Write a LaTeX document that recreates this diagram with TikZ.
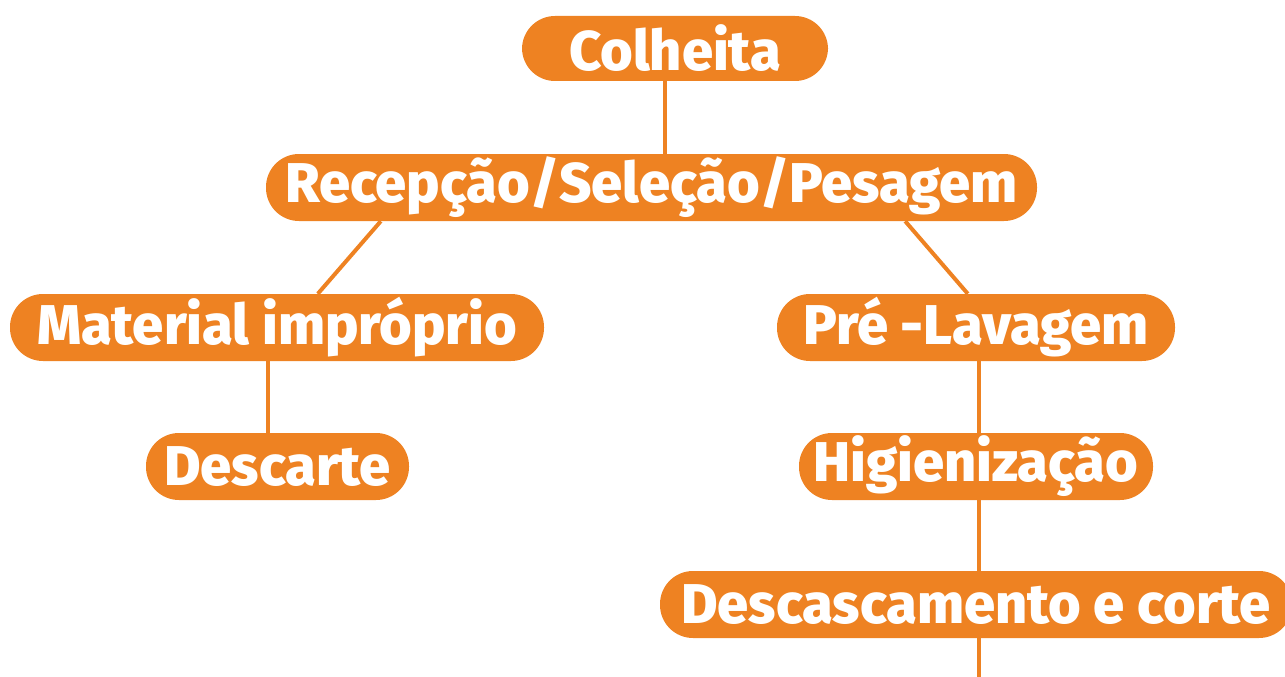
\documentclass[tikz,border=0pt]{standalone}
\usepackage{fontspec}
\setmainfont{Fira Sans}[BoldFont={Fira Sans ExtraBold}]
\definecolor{orng}{HTML}{EE8222}
\begin{document}
\begin{tikzpicture}[x=1pt,y=1pt,
  box/.style={fill=orng, rounded corners=33pt, minimum height=67pt, inner sep=0pt,
    text=white, font=\fontsize{56}{56}\selectfont\bfseries},
  link/.style={draw=orng, line width=4pt}]
\useasboundingbox (0,0) rectangle (1285,-677);
\node[box, minimum width=306pt, minimum height=65pt] (col) at (675,-48.5) {Colheita};
\node[box, minimum width=771pt] (rec) at (651.5,-187.5) {Recepção/Seleção/Pesagem};
\node[box, minimum width=534pt] (mat) at (277,-327.5) {Material impróprio};
\node[box, minimum width=398pt] (pre) at (976,-327.5) {Pré -Lavagem};
\node[box, minimum width=263pt] (des) at (277.5,-466.5) {Descarte};
\node[box, minimum width=354pt] (hig) at (976,-466.5) {Higienização};
\node[box, minimum width=632pt] (dsc) at (976,-604.5) {Descascamento e corte};
\coordinate (end) at (979,-677);
\draw[link] ([xshift=-10pt]col.south) -- ([xshift=-10pt]col.south |- rec.north);
\draw[link] ([xshift=115pt]rec.south west) -- ([xshift=308pt]mat.north west);
\draw[link] ([xshift=-132pt]rec.south east) -- ([xshift=191pt]pre.north west);
\draw[link] ([xshift=-9pt]mat.south) -- ([xshift=-9pt]mat.south |- des.north);
\draw[link] ([xshift=3pt]pre.south) -- ([xshift=3pt]pre.south |- hig.north);
\draw[link] ([xshift=3pt]hig.south) -- ([xshift=3pt]hig.south |- dsc.north);
\draw[link] ([xshift=3pt]dsc.south) -- (end);
\end{tikzpicture}
\end{document}
